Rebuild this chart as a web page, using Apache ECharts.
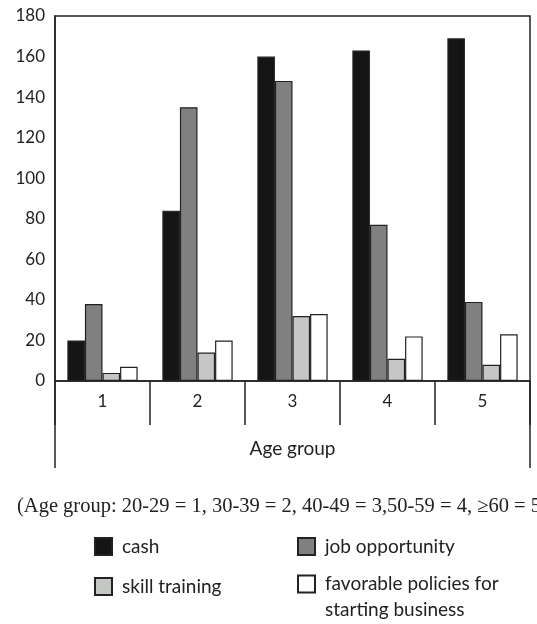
<!DOCTYPE html>
<html>
<head>
<meta charset="utf-8">
<script src="https://cdn.jsdelivr.net/npm/echarts@6/dist/echarts.min.js"></script>
<style>
  html, body { margin: 0; padding: 0; background: #fff; }
  #chart { width: 537px; height: 624px; }
</style>
</head>
<body>
<div id="chart"></div>
<script>
const ageGroups = ['1', '2', '3', '4', '5'];
const cash = [20, 84, 160, 163, 169];
const jobOpportunity = [38, 135, 148, 77, 39];
const skillTraining = [4, 14, 32, 11, 8];
const favorablePolicies = [7, 20, 33, 22, 23];
const yTicks = { min: 0, max: 180, interval: 20 };

const favName = 'favorable policies for\nstarting business';
const font = 'Lato, "Open Sans", sans-serif';
const ink = '#222';

const chart = echarts.init(document.getElementById('chart'));

function bar(name, data, color) {
    return {
        name: name,
        type: 'bar',
        data: data,
        barGap: '0%',
        barCategoryGap: '26%',
        itemStyle: { color: color, borderColor: ink, borderWidth: 1.2 },
        emphasis: { disabled: true }
    };
}

// grid box; the outer side lines run on below the axis
const gLeft = 55, gRight = 7, gTop = 16, gBottom = 243;
const axisY = 624 - gBottom;

const legendText = { fontSize: 19, color: ink, fontFamily: font, padding: [0, 0, 0, 5] };

chart.setOption({
    animation: false,
    backgroundColor: '#fff',
    textStyle: { fontFamily: font },
    title: {
        text: '(Age group: 20-29 = 1, 30-39 = 2, 40-49 = 3,50-59 = 4, \u226560 = 5',
        left: 17,
        top: 496,
        padding: 0,
        textStyle: { fontFamily: '"Liberation Serif", serif', fontSize: 20.5, fontWeight: 'normal', color: ink }
    },
    legend: [
        {
            data: ['cash', 'skill training'],
            orient: 'vertical',
            left: 94, top: 537, padding: 0,
            itemWidth: 17, itemHeight: 17, itemGap: 21,
            icon: 'rect',
            textStyle: legendText
        },
        {
            data: ['job opportunity'],
            orient: 'vertical',
            left: 297, top: 537, padding: 0,
            itemWidth: 17, itemHeight: 17,
            icon: 'rect',
            textStyle: legendText
        },
        {
            // blank first line so the first text line sits level with the box
            data: [favName],
            orient: 'vertical',
            left: 297, top: 545, padding: 0,
            itemWidth: 17, itemHeight: 17,
            icon: 'rect',
            formatter: function (name) { return ' \n' + name; },
            textStyle: Object.assign({}, legendText, { lineHeight: 26 })
        }
    ],
    grid: {
        left: gLeft, right: gRight, top: gTop, bottom: gBottom,
        show: true, borderColor: ink, borderWidth: 1.5
    },
    xAxis: {
        type: 'category',
        data: ageGroups,
        name: 'Age group',
        nameLocation: 'middle',
        nameGap: 58,
        nameTextStyle: { fontSize: 19, color: ink, fontFamily: font },
        axisLine: { show: true, lineStyle: { color: ink, width: 1.5 } },
        axisTick: { show: true, alignWithLabel: false, length: 44, lineStyle: { color: ink, width: 1.5 } },
        axisLabel: { fontSize: 17, color: ink, margin: 12, fontFamily: font }
    },
    yAxis: {
        type: 'value',
        min: yTicks.min, max: yTicks.max, interval: yTicks.interval,
        axisLine: { show: true, lineStyle: { color: ink, width: 1.5 } },
        axisTick: { show: false },
        splitLine: { show: false },
        axisLabel: { fontSize: 17, color: ink, margin: 10, fontFamily: font }
    },
    graphic: [
        { type: 'line', shape: { x1: gLeft, y1: axisY, x2: gLeft, y2: 468 }, style: { stroke: ink, lineWidth: 1.5 } },
        { type: 'line', shape: { x1: 537 - gRight, y1: axisY, x2: 537 - gRight, y2: 468 }, style: { stroke: ink, lineWidth: 1.5 } }
    ],
    series: [
        bar('cash', cash, '#151515'),
        bar('job opportunity', jobOpportunity, '#808080'),
        bar('skill training', skillTraining, '#c5c7c5'),
        bar(favName, favorablePolicies, '#ffffff')
    ]
});
</script>
</body>
</html>
